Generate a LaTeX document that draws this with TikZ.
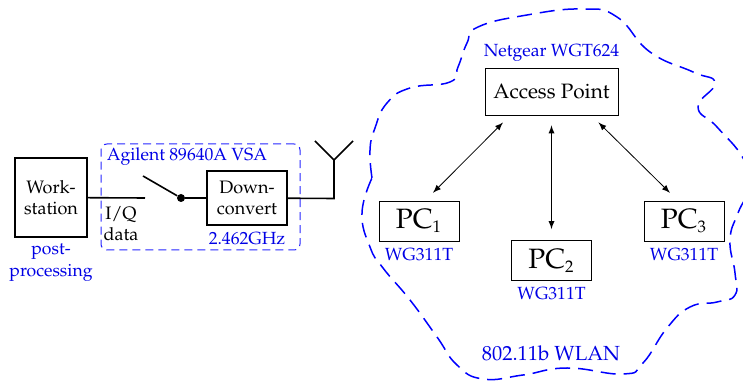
\documentclass[tikz,border=0pt]{standalone}
\usepackage[T1]{fontenc}
\usepackage{mathpazo}
\usepackage{tikz}
\usetikzlibrary{positioning}

\begin{document}
\begin{tikzpicture}
		[x=0.5pt, y=-0.5pt,
		block/.style={rectangle, draw=black, line width=0.65pt, inner sep=0pt, align=center, font=\fontsize{9}{10.5}\selectfont},
		device/.style={rectangle, draw=black, line width=0.45pt, inner sep=0pt},
		tag/.style={text=blue!90!black, font=\fontsize{8.8}{11}\selectfont, inner sep=0pt, align=center, node distance=3pt},
		wire/.style={line width=0.8pt},
		link/.style={<->, >=latex, line width=0.4pt, shorten <=5pt, shorten >=5.5pt},
		wlan/.style={draw=blue, line width=0.75pt, dash pattern=on 7.5pt off 4pt}]
		\useasboundingbox (0,0) rectangle (743,383);

		\node[block, minimum width=36pt, minimum height=39.5pt] (work) at (51,197.5) {Work-\\station};
		\node[block, minimum width=40pt, minimum height=27pt] (down) at (247,198) {Down-\\convert};
		\node[device, minimum width=66.5pt, minimum height=23.5pt, font=\fontsize{10.4}{13}\selectfont] (ap) at (551.5,91.5) {Access Point};
		\node[device, minimum width=40pt, minimum height=20pt, font=\fontsize{14}{16}\selectfont] (pc1) at (419,221) {PC\(_{\scriptscriptstyle 1}\)};
		\node[device, minimum width=40pt, minimum height=20pt, font=\fontsize{14}{16}\selectfont] (pc2) at (551.5,260.5) {PC\(_{\scriptscriptstyle 2}\)};
		\node[device, minimum width=40pt, minimum height=20pt, font=\fontsize{14}{16}\selectfont] (pc3) at (684,221) {PC\(_{\scriptscriptstyle 3}\)};

		\node[tag, below=of work] (postproc) {post-\\processing};
		\node[tag, below=of down] (freq) {2.462GHz};
		\node[tag, above=of ap] (netgear) {Netgear WGT624};
		\node[tag, below=of pc1] (card1) {WG311T};
		\node[tag, below=of pc2] (card2) {WG311T};
		\node[tag, below=of pc3] (card3) {WG311T};
		\node[tag] (vsa) at (187,157) {Agilent 89640A VSA};
		\node[tag, font=\fontsize{10.2}{12}\selectfont] (net) at (551,353) {802.11b WLAN};
		\node[inner sep=0pt, align=center, font=\fontsize{9}{10.5}\selectfont] (iq) at (121,224) {I/Q\\data};

		\coordinate (swopen) at (145,198);
		\coordinate (swarm) at (143,176);
		\coordinate (feed) at (334,198.5);
		\coordinate (ant) at (334,160);
		\coordinate (antl) at (315,141);
		\coordinate (antr) at (353,141);
		\node[circle, fill=black, inner sep=0pt, minimum size=4pt] (pivot) at (181,198) {};
		\node[inner sep=0pt, minimum width=99.5pt, minimum height=53pt, rectangle, rounded corners=3pt, draw=blue!85, line width=0.5pt, dash pattern=on 4pt off 2.5pt] (vsabox) at (200.5,197) {};

		\draw[wire] (work) -- (swopen);
		\draw[wire] (swarm) -- (pivot);
		\draw[wire] (pivot) -- (down);
		\draw[wire] (down) -- (feed) -- (ant);
		\draw[wire] (antl) -- (ant) -- (antr);

		\draw[link] (ap.210) -- (pc1.73);
		\draw[link] (ap) -- (pc2);
		\draw[link] (ap.329) -- (pc3.107);

		\draw[wlan] plot[smooth, tension=0.8] coordinates {(372,178) (370,150) (375,128) (387,103) (410,88) (450,82) (458,67) (467,43) (478,27) (527,15) (583,9) (617,17) (650,52) (693,72) (715,83) (698,107) (717,127) (743,158) (750,185) (738,213) (730,240) (735,273) (735,295) (717,302) (690,307) (667,328) (643,363) (623,374) (567,368) (523,375) (483,379) (457,365) (437,337) (410,300) (383,268) (370,247) (362,213) (372,178)};
	\end{tikzpicture}
\end{document}
